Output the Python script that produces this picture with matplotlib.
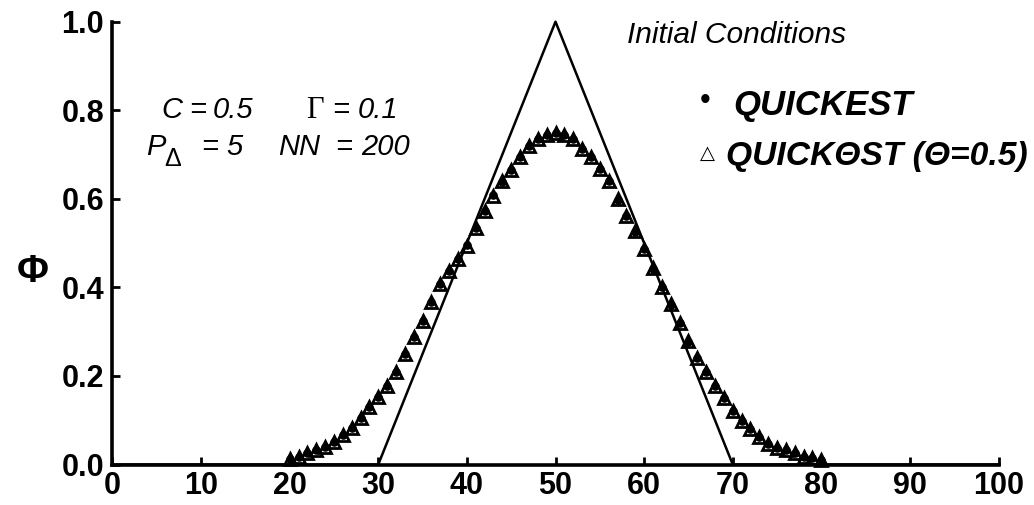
#!/usr/bin/env python3
"""Advection-diffusion of a triangular pulse: QUICKEST vs QUICK-theta-ST."""
import matplotlib
matplotlib.use("Agg")
import matplotlib.pyplot as plt

# initial condition (triangle pulse)
init_x = [0, 30, 50, 70, 100]
init_phi = [0.0, 0.0, 1.0, 0.0, 0.0]

# computed profiles, sampled every unit of x
node_x = [20, 21, 22, 23, 24, 25, 26, 27, 28, 29,
          30, 31, 32, 33, 34, 35, 36, 37, 38, 39,
          40, 41, 42, 43, 44, 45, 46, 47, 48, 49,
          50, 51, 52, 53, 54, 55, 56, 57, 58, 59,
          60, 61, 62, 63, 64, 65, 66, 67, 68, 69,
          70, 71, 72, 73, 74, 75, 76, 77, 78, 79, 80]
quickest = [0.012, 0.018, 0.025, 0.032, 0.040, 0.051, 0.066, 0.082, 0.104, 0.130,
            0.153, 0.177, 0.210, 0.250, 0.287, 0.325, 0.366, 0.408, 0.438, 0.465,
            0.495, 0.535, 0.572, 0.608, 0.638, 0.665, 0.695, 0.720, 0.735, 0.744,
            0.748, 0.744, 0.735, 0.712, 0.695, 0.668, 0.640, 0.598, 0.562, 0.526,
            0.486, 0.442, 0.401, 0.360, 0.319, 0.277, 0.240, 0.208, 0.178, 0.150,
            0.121, 0.099, 0.080, 0.063, 0.046, 0.037, 0.032, 0.026, 0.018, 0.014, 0.010]
quick_theta = [0.012, 0.018, 0.025, 0.032, 0.040, 0.051, 0.066, 0.082, 0.104, 0.130,
               0.153, 0.177, 0.210, 0.250, 0.287, 0.325, 0.366, 0.408, 0.438, 0.463,
               0.493, 0.535, 0.572, 0.606, 0.640, 0.665, 0.695, 0.720, 0.735, 0.745,
               0.748, 0.745, 0.735, 0.712, 0.695, 0.668, 0.640, 0.600, 0.562, 0.528,
               0.486, 0.444, 0.401, 0.362, 0.319, 0.279, 0.240, 0.208, 0.178, 0.150,
               0.121, 0.099, 0.080, 0.063, 0.046, 0.037, 0.032, 0.026, 0.018, 0.014, 0.010]

x_ticks = [0, 10, 20, 30, 40, 50, 60, 70, 80, 90, 100]
y_ticks = [0.0, 0.2, 0.4, 0.6, 0.8, 1.0]

SANS = ["Liberation Sans", "DejaVu Sans"]
SERIF = ["Liberation Serif", "DejaVu Serif"]
plt.rcParams["font.family"] = SANS

W, H = 1034, 505
fig = plt.figure(figsize=(W / 100, H / 100), dpi=100)
ax = fig.add_axes([112.4 / W, 1 - 464.5 / H, (998.6 - 112.4) / W, (464.5 - 21.7) / H])


def px(x, y):
    return x / W, 1 - y / H


ax.plot(init_x, init_phi, color="black", lw=1.8, zorder=2, clip_on=False)
ax.plot(node_x, quick_theta, ls="none", marker="^", ms=8.5, mfc="none", mec="black",
        mew=2.0, zorder=3, clip_on=False)
ax.plot(node_x, quickest, ls="none", marker="o", ms=5.2, mfc="black", mec="black",
        zorder=4, clip_on=False)

ax.set_xlim(0, 100)
ax.set_ylim(0, 1.0)
ax.set_xticks(x_ticks)
ax.set_yticks(y_ticks)
ax.set_yticklabels([f"{v:.1f}" for v in y_ticks])
for side in ("top", "right"):
    ax.spines[side].set_visible(False)
for side in ("left", "bottom"):
    ax.spines[side].set_linewidth(2.6)
ax.tick_params(direction="in", length=6, width=2, labelsize=22)
ax.tick_params(axis="x", pad=5)
ax.tick_params(axis="y", pad=6)
for lab in ax.get_xticklabels() + ax.get_yticklabels():
    lab.set_fontweight("bold")

fig.text(*px(33, 272), "Φ", fontsize=28, fontweight="bold", ha="center", va="center")

# run parameters, placed piece by piece
it = dict(fontsize=21, style="italic", va="baseline")
fig.text(*px(161, 118), "C", **it)
fig.text(*px(189, 118), "=", **it)
fig.text(*px(213, 118), "0.5", **it)
fig.text(*px(306, 118), "Γ", fontsize=22, va="baseline", family=SERIF)
fig.text(*px(332, 118), "=", **it)
fig.text(*px(358, 118), "0.1", **it)
fig.text(*px(146, 155), "P", **it)
fig.text(*px(164, 166), "Δ", fontsize=18, va="baseline")
fig.text(*px(201, 155), "=", **it)
fig.text(*px(226, 155), "5", **it)
fig.text(*px(278, 155), "NN", **it)
fig.text(*px(335, 155), "=", **it)
fig.text(*px(361, 155), "200", **it)

# curve labels
fig.text(*px(627, 43), "Initial Conditions", fontsize=21.5, style="italic", va="baseline")
fig.text(*px(705, 101), "•", fontsize=22, ha="center", va="center")
fig.text(*px(733, 115), "QUICKEST", fontsize=25, style="italic", fontweight="bold",
         va="baseline")
fig.text(*px(707, 153), "△", fontsize=14, ha="center", va="center", family=["DejaVu Sans"])
fig.text(*px(726, 165), "QUICKΘST (Θ=0.5)", fontsize=24.2, style="italic", fontweight="bold",
         va="baseline")

fig.savefig("out.png", dpi=100)
